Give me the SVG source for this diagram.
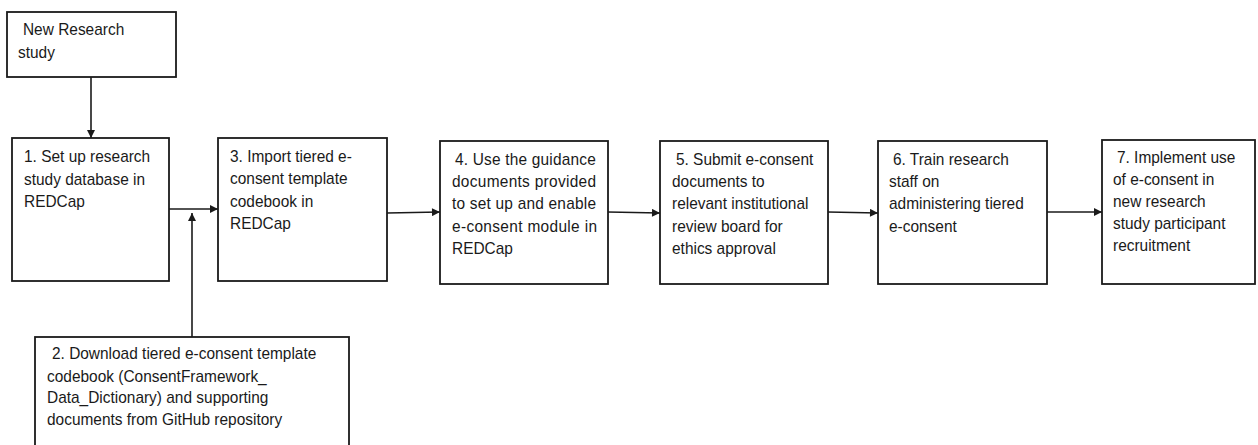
<svg xmlns="http://www.w3.org/2000/svg" width="1258" height="445" viewBox="0 0 1258 445">
  <style>
    .box { fill: #ffffff; stroke: #1a1a1a; stroke-width: 1.8; }
    .lbl { font-family: "Liberation Sans", Arial, sans-serif; font-size: 16.8px; fill: #1a1a1a; }
    .edge { fill: none; stroke: #1a1a1a; stroke-width: 1.6; }
  </style>
  <defs>
    <marker id="arrow" viewBox="0 0 10 10" refX="10" refY="5" markerWidth="10" markerHeight="8" markerUnits="userSpaceOnUse" orient="auto">
      <path d="M0,0 L10,5 L0,10 Z" fill="#1a1a1a"/>
    </marker>
  </defs>
  <rect width="1258" height="445" fill="#ffffff"/>

  <!-- connectors -->
  <g id="connectors">
    <line class="edge" x1="91" y1="77" x2="91" y2="138" marker-end="url(#arrow)"/>
    <line class="edge" x1="169" y1="209" x2="218" y2="209" marker-end="url(#arrow)"/>
    <line class="edge" x1="192" y1="337" x2="192" y2="213" marker-end="url(#arrow)"/>
    <line class="edge" x1="387" y1="213" x2="440" y2="212" marker-end="url(#arrow)"/>
    <line class="edge" x1="608" y1="212" x2="660" y2="213" marker-end="url(#arrow)"/>
    <line class="edge" x1="828" y1="212" x2="878" y2="213" marker-end="url(#arrow)"/>
    <line class="edge" x1="1047" y1="212" x2="1102" y2="212" marker-end="url(#arrow)"/>
  </g>

  <!-- start node; labels use a slightly condensed face -->
  <g id="node-start">
    <rect class="box" x="7" y="12" width="169" height="65"/>
    <g transform="translate(18 0) scale(0.92 1)">
      <text class="lbl" x="5.4" y="35">New Research</text>
      <text class="lbl" x="0" y="58">study</text>
    </g>
  </g>

  <!-- step 1 -->
  <g id="node-1">
    <rect class="box" x="12" y="138" width="157" height="143"/>
    <g transform="translate(24 0) scale(0.92 1)">
      <text class="lbl" x="0" y="162">1. Set up research</text>
      <text class="lbl" x="0" y="185">study database in</text>
      <text class="lbl" x="0" y="207">REDCap</text>
    </g>
  </g>

  <!-- step 2 -->
  <g id="node-2">
    <rect class="box" x="35" y="337" width="314" height="120"/>
    <g transform="translate(47 0) scale(0.92 1)">
      <text class="lbl" x="5.4" y="359">2. Download tiered e-consent template</text>
      <text class="lbl" x="0" y="382">codebook (ConsentFramework_</text>
      <text class="lbl" x="0" y="403">Data_Dictionary) and supporting</text>
      <text class="lbl" x="0" y="425">documents from GitHub repository</text>
    </g>
  </g>

  <!-- step 3 -->
  <g id="node-3">
    <rect class="box" x="218" y="138" width="169" height="143"/>
    <g transform="translate(230 0) scale(0.92 1)">
      <text class="lbl" x="0" y="162">3. Import tiered e-</text>
      <text class="lbl" x="0" y="184">consent template</text>
      <text class="lbl" x="0" y="207">codebook in</text>
      <text class="lbl" x="0" y="229">REDCap</text>
    </g>
  </g>

  <!-- step 4 (justified lines) -->
  <g id="node-4">
    <rect class="box" x="440" y="141" width="168" height="143"/>
    <g transform="translate(452 0) scale(0.92 1)">
      <text class="lbl" x="3.3" y="165" textLength="153" lengthAdjust="spacing">4. Use the guidance</text>
      <text class="lbl" x="0" y="187" textLength="156.5" lengthAdjust="spacing">documents provided</text>
      <text class="lbl" x="0" y="209" textLength="156.5" lengthAdjust="spacing">to set up and enable</text>
      <text class="lbl" x="0" y="232" textLength="157.6" lengthAdjust="spacing">e-consent module in</text>
      <text class="lbl" x="0" y="254">REDCap</text>
    </g>
  </g>

  <!-- step 5 -->
  <g id="node-5">
    <rect class="box" x="660" y="141" width="168" height="143"/>
    <g transform="translate(672 0) scale(0.92 1)">
      <text class="lbl" x="4.3" y="165">5. Submit e-consent</text>
      <text class="lbl" x="0" y="187">documents to</text>
      <text class="lbl" x="0" y="209">relevant institutional</text>
      <text class="lbl" x="0" y="232">review board for</text>
      <text class="lbl" x="0" y="254">ethics approval</text>
    </g>
  </g>

  <!-- step 6 -->
  <g id="node-6">
    <rect class="box" x="878" y="141" width="169" height="143"/>
    <g transform="translate(889 0) scale(0.92 1)">
      <text class="lbl" x="4.3" y="165">6. Train research</text>
      <text class="lbl" x="0" y="187">staff on</text>
      <text class="lbl" x="0" y="209">administering tiered</text>
      <text class="lbl" x="0" y="232">e-consent</text>
    </g>
  </g>

  <!-- step 7 -->
  <g id="node-7">
    <rect class="box" x="1102" y="140" width="153" height="144"/>
    <g transform="translate(1113 0) scale(0.92 1)">
      <text class="lbl" x="4.3" y="163">7. Implement use</text>
      <text class="lbl" x="0" y="185">of e-consent in</text>
      <text class="lbl" x="0" y="207">new research</text>
      <text class="lbl" x="0" y="229">study participant</text>
      <text class="lbl" x="0" y="251">recruitment</text>
    </g>
  </g>
</svg>
